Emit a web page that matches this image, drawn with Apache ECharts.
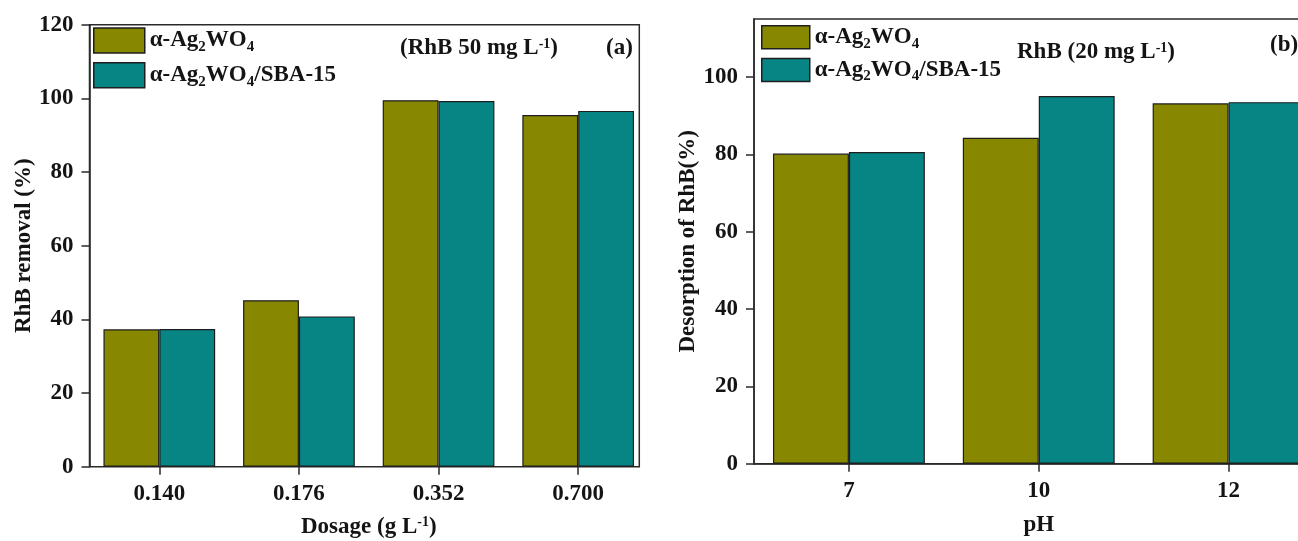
<!DOCTYPE html>
<html>
<head>
<meta charset="utf-8">
<script src="https://cdn.jsdelivr.net/npm/echarts@6/dist/echarts.min.js"></script>
<style>
  html, body { margin: 0; padding: 0; background: #fff; }
  #chart { width: 1298px; height: 541px; }
</style>
</head>
<body>
<div id="chart"></div>
<script>
// panel (a): removal vs dosage
const dosage = ['0.140', '0.176', '0.352', '0.700']
const removalAg = [37.3, 45.2, 99.5, 95.5]
const removalSba = [37.4, 40.8, 99.3, 96.6]
// panel (b): desorption vs pH
const phLevels = ['7', '10', '12']
const desorbAg = [80.2, 84.3, 93.2]
const desorbSba = [80.6, 95.1, 93.5]
const yTicksB = [0, 20, 40, 60, 80, 100]

const nameAg = 'α-Ag2WO4'
const nameSba = 'α-Ag2WO4/SBA-15'

const font = 'Liberation Serif'
const ink = '#141414'
const olive = '#878700'
const teal = '#078585'
const edge = '#1e1e1e'
const fs = 23

const rich = {
  t: { fontFamily: font, fontWeight: 'bold', fontSize: fs, lineHeight: 28, color: ink },
  sub: { fontFamily: font, fontWeight: 'bold', fontSize: 15, lineHeight: 12, verticalAlign: 'bottom', color: ink },
  sup: { fontFamily: font, fontWeight: 'bold', fontSize: 14, lineHeight: 12, verticalAlign: 'top', color: ink }
}
const textBase = { fontFamily: font, fontWeight: 'bold', fontSize: fs, color: ink, rich: rich }
const tickFont = { fontFamily: font, fontWeight: 'bold', fontSize: fs, color: ink }

function legendLabel(name) {
  let s = '{t|α-Ag}{sub|2}{t|WO}{sub|4}'
  if (name === nameSba) s += '{t|/SBA-15}'
  return s
}

const lineStyle = { color: '#2a2a2a', width: 1.5 }

function valueAxis(grid, max, nameText, gap, extra) {
  return Object.assign({
    gridIndex: grid,
    type: 'value',
    min: 0,
    max: max,
    interval: 20,
    axisLine: { show: true, lineStyle: lineStyle },
    axisTick: { show: true, length: 8, lineStyle: lineStyle },
    splitLine: { show: false },
    axisLabel: Object.assign({ margin: 16 }, tickFont),
    name: nameText,
    nameLocation: 'middle',
    nameGap: gap,
    nameTextStyle: textBase
  }, extra || {})
}

function categoryAxis(grid, data, nameText, gap, showLine) {
  return {
    gridIndex: grid,
    type: 'category',
    data: data,
    axisLine: { show: showLine, lineStyle: lineStyle },
    axisTick: { show: true, alignWithLabel: true, length: 8, lineStyle: lineStyle },
    axisLabel: Object.assign({ margin: 16 }, tickFont),
    name: nameText,
    nameLocation: 'middle',
    nameGap: gap,
    nameTextStyle: textBase
  }
}

function bar(name, data, axis, color) {
  return {
    type: 'bar',
    name: name,
    xAxisIndex: axis,
    yAxisIndex: axis,
    data: data,
    barGap: '0%',
    barCategoryGap: '20%',
    itemStyle: { color: color, borderColor: edge, borderWidth: 1.2 }
  }
}

function legendAt(left, top, w, h, gap) {
  return {
    orient: 'vertical',
    left: left,
    top: top,
    padding: 0,
    icon: 'rect',
    itemWidth: w,
    itemHeight: h,
    itemGap: gap,
    selectedMode: false,
    data: [nameAg, nameSba],
    formatter: legendLabel,
    textStyle: textBase,
    itemStyle: { borderColor: edge, borderWidth: 1.5 }
  }
}

const chart = echarts.init(document.getElementById('chart'))
chart.setOption({
  animation: false,
  backgroundColor: '#fff',
  title: [
    { text: '(RhB 50 mg L{sup|-1})', left: 400, top: 37, padding: 0, textStyle: textBase },
    { text: '(a)', left: 606, top: 37, padding: 0, textStyle: textBase },
    { text: 'RhB (20 mg L{sup|-1})', left: 1017, top: 41, padding: 0, textStyle: textBase },
    { text: '(b)', left: 1270, top: 34, padding: 0, textStyle: textBase }
  ],
  legend: [legendAt(93, 27.3, 51, 25, 7.4), legendAt(761, 25, 48, 23, 6.5)],
  grid: [
    { left: 89.5, top: 24.7, width: 558.5, height: 442, outerBoundsMode: 'none' },
    { left: 89.5, top: 24.7, width: 549.8, height: 442, outerBoundsMode: 'none', show: true, borderColor: '#2a2a2a', borderWidth: 1.5 },
    { left: 754, top: 19, width: 569.5, height: 444.7, outerBoundsMode: 'none', show: true, borderColor: '#2a2a2a', borderWidth: 1.5 }
  ],
  xAxis: [
    categoryAxis(0, dosage, 'Dosage (g L{sup|-1})', 49, false),
    { gridIndex: 1, type: 'value', show: false },
    categoryAxis(2, phLevels, 'pH', 50, true)
  ],
  yAxis: [
    valueAxis(0, 120, 'RhB removal (%)', 54),
    { gridIndex: 1, type: 'value', show: false },
    valueAxis(2, 115, 'Desorption of RhB(%)', 51, {
      axisTick: { show: true, length: 8, lineStyle: lineStyle, customValues: yTicksB },
      axisLabel: Object.assign({ margin: 16, customValues: yTicksB }, tickFont)
    })
  ],
  series: [
    bar(nameAg, removalAg, 0, olive),
    bar(nameSba, removalSba, 0, teal),
    bar(nameAg, desorbAg, 2, olive),
    bar(nameSba, desorbSba, 2, teal)
  ]
})
</script>
</body>
</html>
